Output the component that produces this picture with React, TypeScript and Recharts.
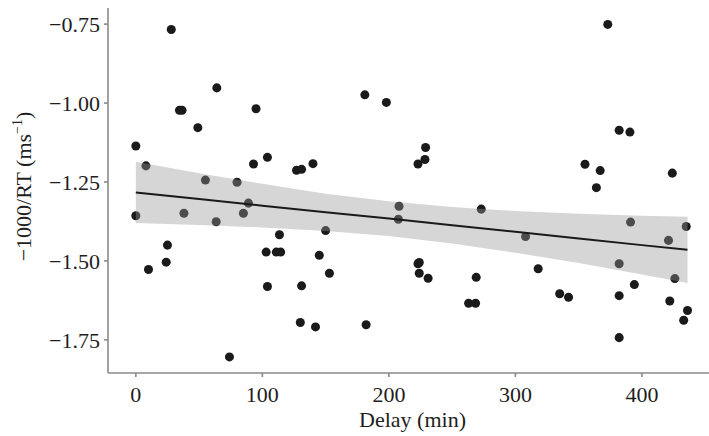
import { ComposedChart, ScatterChart, Scatter, Area, Line, XAxis, YAxis, ZAxis } from 'recharts';

// observed points: delay (min) and -1000/RT
const delays = [
  0, 0, 8, 10, 24, 25, 28, 34.5, 36.5, 38, 49, 55, 63.5, 64, 74, 80, 85, 89, 93, 95,
  103, 104, 104, 111, 113.5, 114.5, 127, 130, 131, 131, 140, 142, 145, 150, 153,
  181, 182, 198, 207.5, 208, 223, 223, 224, 224, 228.5, 229, 231,
  263, 268.5, 269, 273, 308, 318, 335, 342, 355, 364, 367, 373,
  382, 382, 382, 382, 390.5, 391, 394, 421, 422, 424, 426, 433, 435, 436,
];
const rtValues = [
  -1.136, -1.357, -1.199, -1.527, -1.504, -1.45, -0.767, -1.023, -1.023, -1.349, -1.078, -1.244, -1.376, -0.952, -1.804, -1.251, -1.349, -1.317, -1.193, -1.018,
  -1.472, -1.172, -1.581, -1.472, -1.417, -1.472, -1.213, -1.695, -1.21, -1.579, -1.192, -1.709, -1.482, -1.404, -1.539,
  -0.974, -1.702, -0.998, -1.368, -1.327, -1.193, -1.509, -1.505, -1.539, -1.179, -1.141, -1.555,
  -1.634, -1.634, -1.552, -1.336, -1.423, -1.525, -1.604, -1.615, -1.194, -1.268, -1.214, -0.751,
  -1.086, -1.509, -1.61, -1.743, -1.092, -1.377, -1.575, -1.435, -1.627, -1.222, -1.556, -1.688, -1.391, -1.657,
];

// linear fit and its confidence band
const fitDelays = [0, 50, 100, 150, 200, 250, 300, 350, 400, 436];
const fitValues = [-1.283, -1.304, -1.325, -1.346, -1.366, -1.387, -1.408, -1.429, -1.45, -1.465];
const bandLow = [-1.38, -1.386, -1.394, -1.405, -1.421, -1.445, -1.474, -1.507, -1.543, -1.57];
const bandHigh = [-1.186, -1.222, -1.256, -1.287, -1.311, -1.329, -1.342, -1.351, -1.357, -1.36];

const xTicks = [0, 100, 200, 300, 400];
const yTicks = [-1.75, -1.5, -1.25, -1.0, -0.75];

const points = delays.map((d, i) => ({ d, v: rtValues[i] }));
const fitData = fitDelays.map((d, i) => ({ d, fit: fitValues[i], band: [bandLow[i], bandHigh[i]] }));

const FONT = '"Liberation Serif", "Times New Roman", serif';
const AXIS = '#8a8a8a';
const TEXT = '#1e1e1e';
const X_DOMAIN: [number, number] = [-22, 453];
const Y_DOMAIN: [number, number] = [-1.855, -0.699];

const fmtY = (v: number) => (v < 0 ? '\u2212' : '') + Math.abs(v).toFixed(2);

export default function App() {
  return (
    <div style={{ position: 'absolute', left: 0, top: 0, width: 709, height: 436, background: '#fff' }}>
      {/* points and axes underneath */}
      <div style={{ position: 'absolute', left: 0, top: 0 }}>
        <ScatterChart width={709} height={436} margin={{ top: 8, right: 0, bottom: 0, left: 0 }}>
          <XAxis
            type="number"
            dataKey="d"
            domain={X_DOMAIN}
            ticks={xTicks}
            allowDataOverflow
            height={63}
            stroke={AXIS}
            strokeWidth={1.6}
            tickSize={4}
            tickMargin={9}
            tick={{ fill: TEXT, fontSize: 22, fontFamily: FONT }}
            label={{
              content: ({ viewBox }: any) => (
                <text
                  x={viewBox.x + viewBox.width / 2 + 4}
                  y={viewBox.y + 54}
                  textAnchor="middle"
                  fill={TEXT}
                  fontSize={22}
                  fontFamily={FONT}
                >
                  Delay (min)
                </text>
              ),
            }}
          />
          <YAxis
            type="number"
            dataKey="v"
            domain={Y_DOMAIN}
            ticks={yTicks}
            allowDataOverflow
            width={108}
            stroke={AXIS}
            strokeWidth={1.6}
            tickSize={4}
            tickMargin={4}
            tickFormatter={fmtY}
            tick={{ fill: TEXT, fontSize: 22, fontFamily: FONT }}
            label={{
              content: ({ viewBox }: any) => {
                const cx = 31;
                const cy = viewBox.y + viewBox.height / 2 - 4;
                return (
                  <text
                    x={cx}
                    y={cy}
                    transform={`rotate(-90 ${cx} ${cy})`}
                    textAnchor="middle"
                    fill={TEXT}
                    fontSize={22}
                    fontFamily={FONT}
                  >
                    {'\u22121000/RT (ms'}
                    <tspan fontSize={14} dy={-9}>{'\u22121'}</tspan>
                    <tspan dy={9}>)</tspan>
                  </text>
                );
              },
            }}
          />
          <ZAxis range={[28, 28]} />
          <Scatter data={points} fill="#1a1a1a" isAnimationActive={false} />
        </ScatterChart>
      </div>
      {/* fit band and line drawn over the points, like a ggplot ribbon */}
      <div style={{ position: 'absolute', left: 0, top: 0 }}>
        <ComposedChart width={709} height={436} data={fitData} margin={{ top: 8, right: 0, bottom: 63, left: 108 }}>
          <XAxis type="number" dataKey="d" domain={X_DOMAIN} allowDataOverflow hide />
          <YAxis type="number" domain={Y_DOMAIN} allowDataOverflow hide />
          <Area type="linear" dataKey="band" stroke="none" fill="#999999" fillOpacity={0.4} isAnimationActive={false} />
          <Line type="linear" dataKey="fit" stroke="#1a1a1a" strokeWidth={2} dot={false} isAnimationActive={false} />
        </ComposedChart>
      </div>
    </div>
  );
}
